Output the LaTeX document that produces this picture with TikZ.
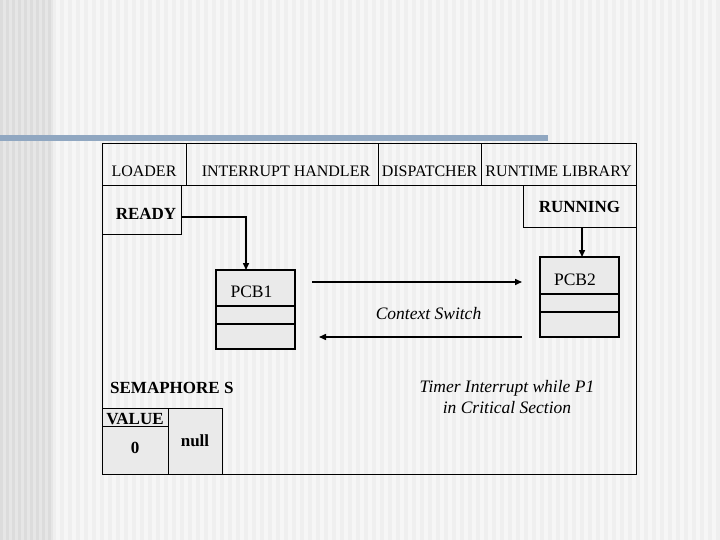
\documentclass[tikz,border=0pt]{standalone}
\usepackage{fontspec}
\setmainfont{Liberation Serif}
\usepackage{tikz}
\usetikzlibrary{arrows.meta,positioning}
\usepackage{xcolor}
\definecolor{bgdark}{HTML}{DCDCDC}
\definecolor{bgmid}{HTML}{E6E6E6}
\definecolor{bglight}{HTML}{EFEFEF}
\definecolor{bgpale}{HTML}{F6F6F6}
\definecolor{barblue}{HTML}{90A7C1}
\definecolor{cellgray}{HTML}{EAEAEA}

\begin{document}
\begin{tikzpicture}[x=1pt, y=-1pt,
  hdr/.style={draw, line width=1pt, inner sep=0pt, outer sep=0pt, minimum height=42, text height=24, text depth=0, font=\fontsize{16}{18}\selectfont},
  state/.style={draw, line width=1pt, inner sep=0pt, outer sep=0pt, text depth=0, font=\bfseries\fontsize{17}{19}\selectfont},
  pcb/.style={draw, line width=2.5pt, outer sep=0pt, minimum width=79, fill=cellgray},
  pcbtext/.style={anchor=base, inner sep=0pt, font=\fontsize{17.5}{19}\selectfont},
  semcell/.style={draw, line width=1pt, inner sep=0pt, outer sep=0pt, text depth=0, fill=cellgray, font=\bfseries\fontsize{17}{19}\selectfont},
  note/.style={inner sep=0pt, align=center, font=\itshape\fontsize{17.5}{21}\selectfont},
  arr/.style={line width=1.5pt, -{Triangle[length=7pt, width=6pt]}}]
  \useasboundingbox (0,0) rectangle (720,540);
  \fill[bglight] (0,0) rectangle (720,540);
  \foreach \x in {0,8,...,712} \fill[bgpale] (\x,0) rectangle ++(4,540);
  \fill[bgmid] (0,0) rectangle (53,540);
  \foreach \x in {0,6,...,48} \fill[bgdark] (\x,0) rectangle ++(3,540);
  \fill[barblue] (0,135) rectangle (548,141);

  \draw[line width=1pt] (102,144) rectangle (636,474);
  \node[hdr, minimum width=84] (loader) at (144,165) {LOADER};
  \node[hdr, minimum width=192, right=0pt of loader] (inthandler) {\hspace*{8pt}INTERRUPT HANDLER};
  \node[hdr, minimum width=103, right=0pt of inthandler] (dispatcher) {DISPATCHER};
  \node[hdr, minimum width=155, right=0pt of dispatcher] (rtlib) {RUNTIME LIBRARY};

  \node[state, minimum width=79, minimum height=48, text height=18] (ready) at (141.5,210) {\hspace*{9pt}READY};
  \node[state, minimum width=113, minimum height=42, text height=12] (running) at (579.5,207) {RUNNING};

  \node[pcb, minimum height=79] (pcb1) at (255.5,309.5) {};
  \node[pcb, minimum height=80] (pcb2) at (579.5,297) {};
  \foreach \p/\a/\b in {pcb1/36/54, pcb2/37/55} {
    \draw[line width=2pt] ([yshift=-\a]\p.north west) -- ([yshift=-\a]\p.north east);
    \draw[line width=2pt] ([yshift=-\b]\p.north west) -- ([yshift=-\b]\p.north east);
  }
  \node[pcbtext] (pcb1name) at ([xshift=-4, yshift=-27]pcb1.north) {PCB1};
  \node[pcbtext] (pcb2name) at ([xshift=-4.5, yshift=-28]pcb2.north) {PCB2};

  \draw[arr] ([yshift=-7]ready.east) -| ([xshift=-9.5]pcb1.north);
  \draw[arr] ([xshift=2.5]running.south) -- ([xshift=2.5]pcb2.north);

  \coordinate (swright) at ([yshift=15]pcb2.west);
  \coordinate (swleft) at ([yshift=-40]pcb2.west);
  \draw[arr, shorten <=17pt, shorten >=18pt] (pcb1.east |- swright) -- (swright);
  \draw[arr, shorten <=18pt, shorten >=24pt] (swleft) -- (pcb1.east |- swleft);
  \node[note, anchor=base] (ctxswitch) at (428.5,319) {Context Switch};

  \node[anchor=base west, inner sep=0pt, font=\bfseries\fontsize{17}{19}\selectfont] (semname) at (110,393) {SEMAPHORE S};
  \node[semcell, minimum width=66, minimum height=18, text height=14] (value) at (135,417) {VALUE};
  \node[semcell, minimum width=66, minimum height=48, text height=6, below=0pt of value] (zero) {0};
  \node[semcell, minimum width=54, minimum height=66, text height=10, anchor=north west] (null) at (value.north east) {null};

  \node[note, anchor=north] (timer) at (507,380) {Timer Interrupt while P1\\in Critical Section};
\end{tikzpicture}
\end{document}
